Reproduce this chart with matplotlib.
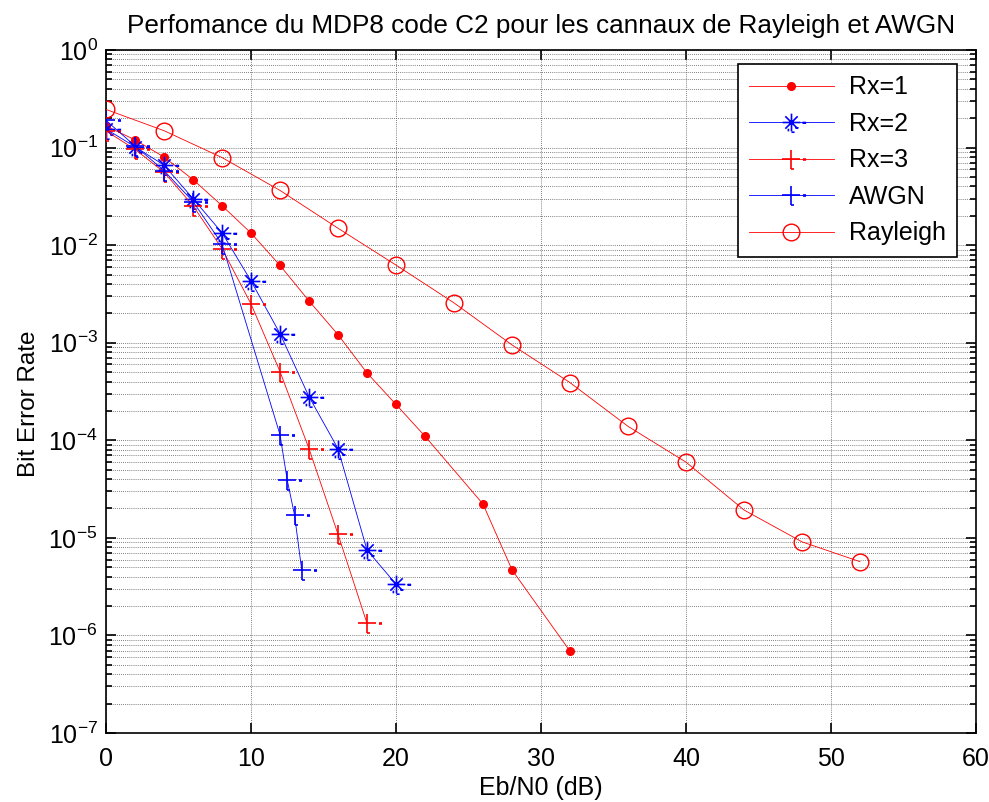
import numpy as np
import matplotlib
matplotlib.use("Agg")
import matplotlib.pyplot as plt
from matplotlib.path import Path
from matplotlib.ticker import FixedLocator, NullFormatter

plt.rcParams['font.family'] = ['Liberation Sans', 'DejaVu Sans']
plt.rcParams['mathtext.fontset'] = 'custom'
plt.rcParams['mathtext.rm'] = 'Liberation Sans'
plt.rcParams['mathtext.it'] = 'Liberation Sans'

# ---- data ----
x_rx1 = [0, 2, 4, 6, 8, 10, 12, 14, 16, 18, 20, 22, 26, 28, 32]
ber_rx1 = [0.166, 0.12, 0.080, 0.047, 0.0254, 0.0133, 0.0062, 0.00268, 0.00121,
           4.9e-4, 2.33e-4, 1.1e-4, 2.22e-5, 4.7e-6, 6.9e-7]

x_rx2 = [0, 2, 4, 6, 8, 10, 12, 14, 16, 18, 20]
ber_rx2 = [0.155, 0.102, 0.066, 0.030, 0.0134, 0.0043, 0.00124, 2.8e-4, 8.2e-5,
           7.5e-6, 3.35e-6]

x_rx3 = [0, 2, 4, 6, 8, 10, 12, 14, 16, 18]
ber_rx3 = [0.148, 0.096, 0.056, 0.0254, 0.0092, 0.0025, 5.06e-4, 8.2e-5, 1.09e-5,
           1.33e-6]

x_awgn = [0, 2, 4, 6, 8, 12, 12.5, 13, 13.5]
ber_awgn = [0.19, 0.104, 0.058, 0.028, 0.0103, 1.14e-4, 3.9e-5, 1.72e-5, 4.66e-6]

x_ray = [0, 4, 8, 12, 16, 20, 24, 28, 32, 36, 40, 44, 48, 52]
ber_ray = [0.246, 0.149, 0.079, 0.0364, 0.0149, 0.00625, 0.00256, 9.5e-4, 3.9e-4,
           1.39e-4, 5.97e-5, 1.93e-5, 9.1e-6, 5.7e-6]

labels = ['Rx=1', 'Rx=2', 'Rx=3', 'AWGN', 'Rayleigh']
x_ticks = [0, 10, 20, 30, 40, 50, 60]
y_exponents = [-7, -6, -5, -4, -3, -2, -1, 0]

# ---- custom markers imitating the MATLAB rendering ----
M, L = Path.MOVETO, Path.LINETO
plus_v = [(-1, 0), (1, 0), (0, 1), (0, -0.8), (0, -0.8), (0, -1.1), (0, -1.1), (0.3, -1.1),
          (1.25, 0), (1.65, 0), (1.25, -0.06), (1.65, -0.06)]
plus_c = [M, L, M, L, M, L, M, L, M, L, M, L]
plus_marker = Path(plus_v, plus_c)

s = 0.7
star_v = [(-1, 0), (1, 0), (0, 1), (0, -1), (-s, -s), (s, s), (-s, s), (s, -s),
          (1.25, 0), (1.65, 0), (1.25, -0.06), (1.65, -0.06),
          (0.4, -0.6), (0.8, -0.6), (0, -1.1), (0.35, -1.1), (-0.35, -0.7), (-0.35, -1.0)]
star_c = [M, L] * 9
star_marker = Path(star_v, star_c)

fig = plt.figure(figsize=(9.89, 8.02), dpi=100)
ax = fig.add_axes([106 / 989, 1 - 733 / 802, 870 / 989, 683 / 802])

red = '#ff0000'
blue = '#0000ff'
lw = 0.6
ax.semilogy(x_rx1, ber_rx1, color=red, lw=lw, marker='o', ms=5.5, mfc=red, mec=red,
            label=labels[0], zorder=3)
ax.semilogy(x_rx2, ber_rx2, color=blue, lw=lw, marker=star_marker, ms=21, mew=1.2,
            mfc='none', mec=blue, label=labels[1], zorder=3)
ax.semilogy(x_rx3, ber_rx3, color=red, lw=lw, marker=plus_marker, ms=22, mew=1.2,
            mfc='none', mec=red, label=labels[2], zorder=3)
ax.semilogy(x_awgn, ber_awgn, color=blue, lw=lw, marker=plus_marker, ms=22, mew=1.2,
            mfc='none', mec=blue, label=labels[3], zorder=3)
ax.semilogy(x_ray, ber_ray, color=red, lw=lw, marker='o', ms=12, mew=1.0,
            mfc='none', mec=red, label=labels[4], zorder=3)

ax.set_xlim(0, 60)
ax.set_ylim(1e-7, 1)
ax.set_xticks(x_ticks)
major_y = [10.0 ** e for e in y_exponents]
minor_y = [m * 10.0 ** e for e in y_exponents[:-1] for m in range(2, 10)]
ax.yaxis.set_major_locator(FixedLocator(major_y))
ax.yaxis.set_minor_locator(FixedLocator(minor_y))
ax.set_yticklabels([r'$10^{%d}$' % e for e in y_exponents])
ax.yaxis.set_minor_formatter(NullFormatter())

ax.grid(True, which='major', axis='both', color='#555555', ls=(0, (1, 1.5)), lw=0.6)
ax.grid(True, which='minor', axis='y', color='#555555', ls=(0, (1, 1.5)), lw=0.6)

ax.tick_params(which='both', direction='in', top=True, right=True, labelsize=18)
ax.tick_params(which='major', length=7, width=1.2)
ax.tick_params(which='minor', length=4, width=1.2)
ax.tick_params(axis='x', pad=10)
ax.tick_params(axis='y', pad=6)
for sp in ax.spines.values():
    sp.set_linewidth(1.2)

ax.set_title('Perfomance du MDP8 code C2 pour les cannaux de Rayleigh et AWGN',
             fontsize=18.8, pad=12)
ax.set_xlabel('Eb/N0 (dB)', fontsize=18, labelpad=4)
ax.set_ylabel('Bit Error Rate', fontsize=17.5)
ax.yaxis.set_label_coords(-0.076, 0.482)

leg = ax.legend(loc='upper right', bbox_to_anchor=((957 - 106) / 870, 1 - 14 / 683),
                fontsize=18, handlelength=3.4, borderpad=0.45, labelspacing=0.5,
                handletextpad=0.6, borderaxespad=0.0,
                fancybox=False, edgecolor='black', framealpha=1)
leg.get_frame().set_linewidth(1.2)

fig.savefig('out.png', dpi=100)
